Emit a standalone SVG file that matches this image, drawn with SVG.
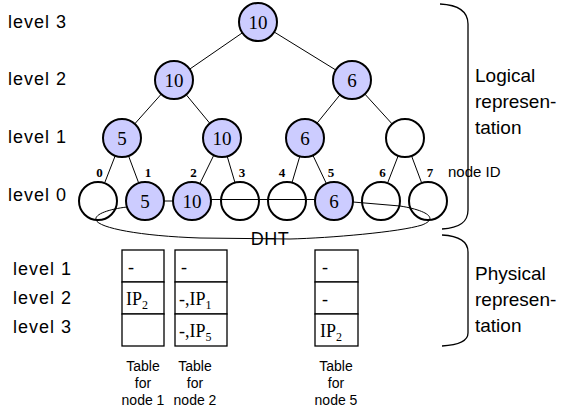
<svg xmlns="http://www.w3.org/2000/svg" width="563" height="412" viewBox="0 0 563 412">
<style>
.lbl{font-family:"Liberation Sans",Arial,sans-serif;font-size:18px;letter-spacing:1px;fill:#000}
.side{font-family:"Liberation Sans",Arial,sans-serif;font-size:19px;fill:#000}
.cap{font-family:"Liberation Sans",Arial,sans-serif;font-size:14px;fill:#000;text-anchor:middle}
.num{font-family:"Liberation Serif","Times New Roman",serif;font-size:19px;fill:#000;text-anchor:middle}
.id{font-family:"Liberation Serif","Times New Roman",serif;font-size:13px;font-weight:bold;fill:#000;text-anchor:middle}
.cell{font-family:"Liberation Serif","Times New Roman",serif;font-size:18px;fill:#000}
.sub{font-size:12px}
.full{fill:#ccccff;stroke:#000;stroke-width:2}
.empty{fill:none;stroke:#000;stroke-width:2}
.edge{stroke:#000;stroke-width:1;fill:none}
.brace{stroke:#000;stroke-width:1.3;fill:none}
.tab{fill:#fff;stroke:#000;stroke-width:1.3}
</style>
<g id="labels">
<text class="lbl" x="8" y="28">level 3</text>
<text class="lbl" x="8" y="85">level 2</text>
<text class="lbl" x="8" y="143">level 1</text>
<text class="lbl" x="8" y="201">level 0</text>
<text class="lbl" x="13" y="275">level 1</text>
<text class="lbl" x="13" y="304">level 2</text>
<text class="lbl" x="13" y="333">level 3</text>
<text class="side" x="475" y="82">Logical</text>
<text class="side" x="475" y="108">represen-</text>
<text class="side" x="475" y="134">tation</text>
<text class="side" x="475" y="280">Physical</text>
<text class="side" x="475" y="306">represen-</text>
<text class="side" x="475" y="332">tation</text>
<text x="448" y="177" style="font-family:'Liberation Sans',Arial,sans-serif;font-size:15px">node ID</text>
</g>
<g id="connectors">
<line class="edge" x1="242.4" y1="32.8" x2="189.6" y2="69.2"/>
<line class="edge" x1="274.2" y1="32.0" x2="335.8" y2="70.0"/>
<line class="edge" x1="161.3" y1="94.1" x2="134.7" y2="123.9"/>
<line class="edge" x1="186.1" y1="94.6" x2="209.9" y2="123.4"/>
<line class="edge" x1="340.0" y1="94.8" x2="317.0" y2="123.2"/>
<line class="edge" x1="364.8" y1="94.0" x2="392.2" y2="124.0"/>
<line class="edge" x1="115.2" y1="155.8" x2="104.8" y2="182.5"/>
<line class="edge" x1="128.5" y1="155.8" x2="138.5" y2="182.5"/>
<line class="edge" x1="213.8" y1="155.2" x2="200.2" y2="183.0"/>
<line class="edge" x1="227.2" y1="156.3" x2="234.8" y2="182.0"/>
<line class="edge" x1="299.8" y1="156.3" x2="292.2" y2="182.0"/>
<line class="edge" x1="312.9" y1="155.3" x2="326.1" y2="183.0"/>
<line class="edge" x1="398.2" y1="155.8" x2="387.8" y2="182.5"/>
<line class="edge" x1="411.5" y1="155.8" x2="421.5" y2="182.5"/>
<line class="edge" x1="164" y1="201" x2="173" y2="201"/>
<line class="edge" x1="211" y1="199.5" x2="315" y2="199.5"/>
<path class="edge" d="M127,207 C110,209 94,214 96,220 C99,228 140,236 200,238 L290,239 C330,238 400,232 422,225 C440,218 425,210 400,206 L353,202"/>
<path class="brace" d="M440,4 C460,5 468,12 468,24 L468,210 C468,222 460,228 442,229"/>
<path class="brace" d="M442,235 C460,236 468,242 468,252 L468,333 C468,341 460,345 442,346"/>
</g>
<g id="n-l3"><circle class="full" cx="258" cy="22" r="19"/><text class="num" x="258" y="28.5">10</text></g>
<g id="n-l2a"><circle class="full" cx="174" cy="80" r="19"/><text class="num" x="174" y="86.5">10</text></g>
<g id="n-l2b"><circle class="full" cx="352" cy="80" r="19"/><text class="num" x="352" y="86.5">6</text></g>
<g id="n-l1a"><circle class="full" cx="122" cy="138" r="19"/><text class="num" x="122" y="144.5">5</text></g>
<g id="n-l1b"><circle class="full" cx="222" cy="138" r="19"/><text class="num" x="222" y="144.5">10</text></g>
<g id="n-l1c"><circle class="full" cx="305" cy="138" r="19"/><text class="num" x="305" y="144.5">6</text></g>
<g id="n-l1d"><circle class="empty" cx="405" cy="138" r="19"/></g>
<g id="n0"><circle class="empty" cx="98" cy="201" r="19"/><text class="id" x="99.5" y="177">0</text></g>
<g id="n1"><circle class="full" cx="145" cy="201" r="19"/><text class="num" x="145" y="207.5">5</text><text class="id" x="148" y="177">1</text></g>
<g id="n2"><circle class="full" cx="192" cy="201" r="19"/><text class="num" x="192" y="207.5">10</text><text class="id" x="193.5" y="177">2</text></g>
<g id="n3"><circle class="empty" cx="240" cy="201" r="19"/><text class="id" x="242" y="177">3</text></g>
<g id="n4"><circle class="empty" cx="287" cy="201" r="19"/><text class="id" x="282" y="177">4</text></g>
<g id="n5"><circle class="full" cx="334" cy="201" r="19"/><text class="num" x="334" y="207.5">6</text><text class="id" x="331" y="177">5</text></g>
<g id="n6"><circle class="empty" cx="381" cy="201" r="19"/><text class="id" x="382.5" y="177">6</text></g>
<g id="n7"><circle class="empty" cx="428" cy="201" r="19"/><text class="id" x="430" y="177">7</text></g>
<g id="dht"><text x="270" y="245" text-anchor="middle" style="font-family:'Liberation Sans',Arial,sans-serif;font-size:18px;letter-spacing:0.5px">DHT</text></g>
<g id="table1">
<rect class="tab" x="122" y="250" width="42" height="32"/>
<rect class="tab" x="122" y="282" width="42" height="32"/>
<rect class="tab" x="122" y="314" width="42" height="32"/>
<text class="cell" x="128" y="273">-</text>
<text class="cell" x="126" y="305">IP<tspan class="sub" dy="4">2</tspan></text>
<text class="cap" x="143" y="371">Table</text>
<text class="cap" x="143" y="388">for</text>
<text class="cap" x="143" y="405">node 1</text>
</g>
<g id="table2">
<rect class="tab" x="175" y="250" width="52" height="32"/>
<rect class="tab" x="175" y="282" width="52" height="32"/>
<rect class="tab" x="175" y="314" width="52" height="32"/>
<text class="cell" x="181" y="273">-</text>
<text class="cell" x="179" y="305">-,IP<tspan class="sub" dy="4">1</tspan></text>
<text class="cell" x="179" y="337">-,IP<tspan class="sub" dy="4">5</tspan></text>
<text class="cap" x="195" y="371">Table</text>
<text class="cap" x="195" y="388">for</text>
<text class="cap" x="195" y="405">node 2</text>
</g>
<g id="table5">
<rect class="tab" x="315" y="250" width="43" height="32"/>
<rect class="tab" x="315" y="282" width="43" height="32"/>
<rect class="tab" x="315" y="314" width="43" height="32"/>
<text class="cell" x="322" y="273">-</text>
<text class="cell" x="322" y="305">-</text>
<text class="cell" x="320" y="337">IP<tspan class="sub" dy="4">2</tspan></text>
<text class="cap" x="336" y="371">Table</text>
<text class="cap" x="336" y="388">for</text>
<text class="cap" x="336" y="405">node 5</text>
</g>
</svg>
